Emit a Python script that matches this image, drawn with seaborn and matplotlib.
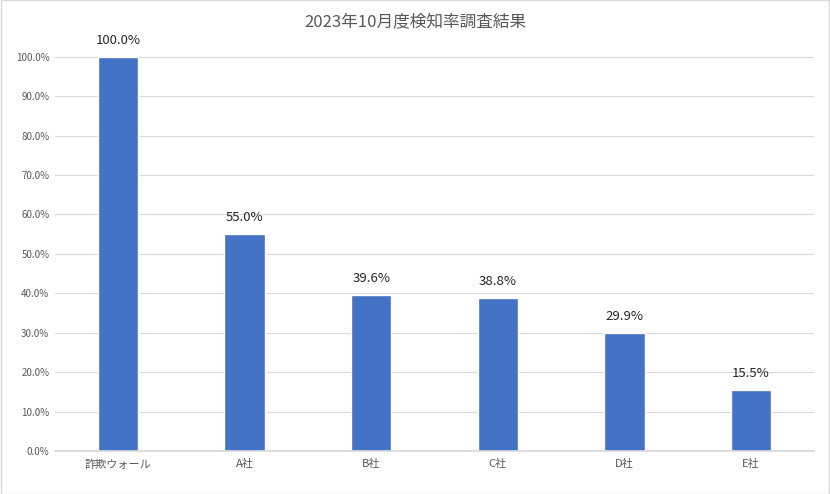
import matplotlib
matplotlib.use("Agg")
import matplotlib.pyplot as plt
import seaborn as sns
import pandas as pd
from matplotlib.ticker import FuncFormatter

categories = ["詐欺ウォール", "A社", "B社", "C社", "D社", "E社"]
values = [100.0, 55.0, 39.6, 38.8, 29.9, 15.5]
title = "2023年10月度検知率調査結果"

sns.set_theme(style="white")
plt.rcParams['font.family'] = ['Noto Sans CJK JP', 'DejaVu Sans']

df = pd.DataFrame({"cat": categories, "val": values})
fig = plt.figure(figsize=(8.3, 4.94), dpi=100)
ax = fig.add_axes([0.066, 0.087, 0.915, 0.798])
sns.barplot(data=df, x="cat", y="val", color="#4472C4", width=0.32, ax=ax, saturation=1)
ax.set_ylim(0, 100)
ax.set_xlim(-0.5, len(categories) - 0.5)
ax.set_yticks(range(0, 101, 10))
ax.yaxis.set_major_formatter(FuncFormatter(lambda v, p: f"{v:.1f}%"))
ax.grid(axis="y", color="#D9D9D9", linewidth=0.8)
ax.set_axisbelow(True)
for s in ["top", "right", "left"]:
    ax.spines[s].set_visible(False)
ax.spines["bottom"].set_color("#D9D9D9")
ax.tick_params(axis="y", labelsize=7, colors="#595959", length=0, pad=4)
ax.tick_params(axis="x", labelsize=8, colors="#595959", length=0, pad=6)
ax.set_xlabel("")
ax.set_ylabel("")
for i, v in enumerate(values):
    ax.text(i, v + 2.5, f"{v:.1f}%", ha="center", va="bottom", fontsize=9.5, color="#262626")
fig.text(0.5, 0.955, title, ha="center", va="center", fontsize=12, color="#595959")
fig.patches.append(matplotlib.patches.Rectangle((0.001, 0.001), 0.998, 0.998, transform=fig.transFigure,
                                                fill=False, edgecolor="#D9D9D9", linewidth=1))
fig.savefig("out.png", dpi=100)
